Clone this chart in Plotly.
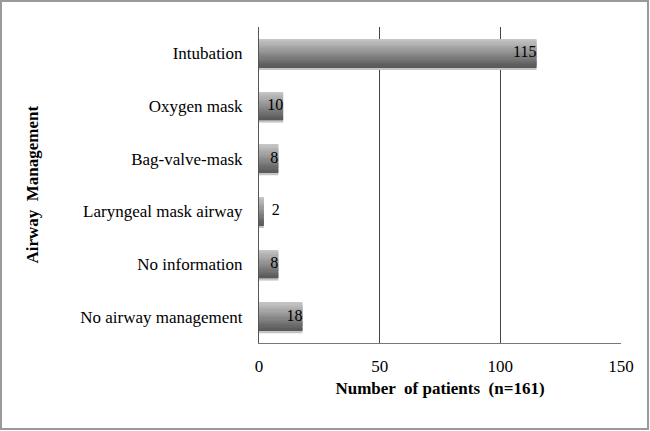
import numpy as np
import plotly.graph_objects as go

# --- DATA ---
categories = ["Intubation", "Oxygen mask", "Bag-valve-mask", "Laryngeal mask airway",
              "No information", "No airway management"]
patients = [115, 10, 8, 2, 8, 18]
x_ticks = [0, 50, 100, 150]

FONT = "Liberation Serif, Times New Roman, serif"
BAR_W = 0.53
N_SLICES = 24

fig = go.Figure()

# soft drop shadow under each bar
fig.add_trace(go.Bar(
    y=categories, x=patients, orientation="h",
    width=BAR_W, offset=-BAR_W / 2 + 0.05,
    marker=dict(color="#c4c4c4", line_width=0),
    hoverinfo="skip", showlegend=False,
))

# fake a vertical gradient by stacking thin slices (light on top, dark at bottom)
shades = np.linspace(198, 90, N_SLICES).astype(int)
sw = BAR_W / N_SLICES
for i, s in enumerate(shades):
    fig.add_trace(go.Bar(
        y=categories, x=patients, orientation="h",
        width=sw * 1.3, offset=-BAR_W / 2 + i * sw,
        marker=dict(color=f"rgb({s},{s},{s})", line_width=0),
        hoverinfo="skip", showlegend=False,
    ))

# value labels (small bars get the label outside)
pos = ["middle left" if v > 5 else "middle right" for v in patients]
labels = [str(v) if v > 5 else "  " + str(v) for v in patients]
fig.add_trace(go.Scatter(
    y=categories, x=patients, mode="text",
    text=labels, textposition=pos,
    textfont=dict(family=FONT, size=16, color="black"),
    hoverinfo="skip", showlegend=False,
))

fig.update_layout(
    width=650, height=431,
    margin=dict(l=259, r=29, t=27, b=88),
    barmode="overlay",
    paper_bgcolor="white", plot_bgcolor="white",
    font=dict(family=FONT, size=17, color="black"),
    xaxis=dict(
        range=[0, 150], tickvals=x_ticks, showgrid=True,
        gridcolor="#444444", gridwidth=1, zeroline=False,
        showline=True, linecolor="#777777", linewidth=1,
        ticks="", ticklabelstandoff=8,
        title=dict(text="<b>Number  of patients  (n=161)</b>", font=dict(size=17), standoff=6),
    ),
    yaxis=dict(
        autorange="reversed", showgrid=False, zeroline=False,
        showline=True, linecolor="#555555", linewidth=1,
        ticks="", ticklabelstandoff=12,
    ),
    annotations=[dict(
        text="<b>Airway  Management</b>", textangle=-90,
        xref="paper", yref="paper", x=-0.66, y=0.5,
        showarrow=False, font=dict(size=17),
    )],
    shapes=[dict(
        type="rect", xref="paper", yref="paper",
        x0=-0.7127, x1=1.0746, y0=-0.2722, y1=1.0823,
        line=dict(color="#9a9a9a", width=2), layer="below",
    )],
)

fig.write_html("out.html", config={"displayModeBar": False},
               post_script="document.body.style.margin='0';")
